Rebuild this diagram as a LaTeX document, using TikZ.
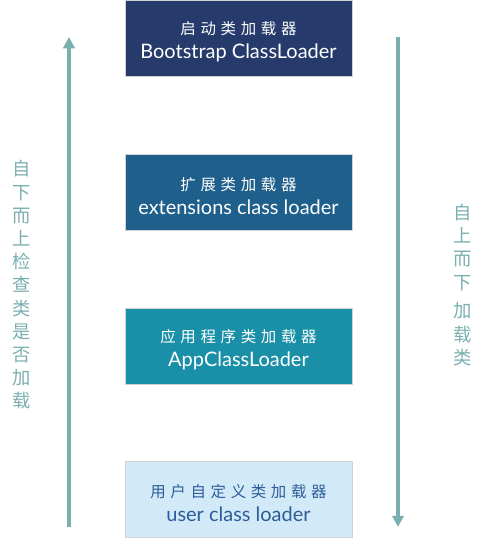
\documentclass[tikz,border=0pt]{standalone}
\usepackage{fontspec}
\setmainfont{Lato}
\newfontfamily\cjk{Noto Sans CJK SC}
\newfontfamily\cjkwide[LetterSpace=30]{Noto Sans CJK SC}
\usetikzlibrary{arrows.meta}

\definecolor{bootblue}{HTML}{263A6B}
\definecolor{extblue}{HTML}{1F5F8B}
\definecolor{appblue}{HTML}{1A8FA8}
\definecolor{userblue}{HTML}{D2EAF8}
\definecolor{usertext}{HTML}{2D5C9A}
\definecolor{flowgray}{HTML}{7AAFB0}

\newcommand\zhline[1]{{\cjkwide\fontsize{11}{13}\selectfont\rule{0pt}{14pt}#1}}
\newcommand\enline[1]{{\fontsize{14.2}{17}\selectfont #1}}

\tikzset{
    loader/.style={draw=gray!35,line width=.6pt,minimum width=5.675cm,
        minimum height=1.9cm,align=center,text=white,inner sep=0pt},
    flow/.style={flowgray,line width=2.2pt,-{Triangle[length=8pt,width=8pt]}},
    flowtext/.style={flowgray,align=center,font=\cjk\fontsize{13}{16.5}\selectfont}
}

\begin{document}
\begin{tikzpicture}[x=0.025cm,y=-0.025cm]
\useasboundingbox (0,0) rectangle (480,539);

%-------------------------------------------- Loaders
\node[loader,fill=bootblue] (boot) at (238.5,38)
    {\zhline{启动类加载器}\\[5pt]\enline{Bootstrap ClassLoader}};
\node[loader,fill=extblue] (ext) at (238.5,192.5)
    {\zhline{扩展类加载器}\\[5pt]\enline{extensions class loader}};
\node[loader,fill=appblue] (app) at (238.5,346.5)
    {\zhline{应用程序类加载器}\\[5pt]\enline{AppClassLoader}};
\node[loader,fill=userblue,text=usertext] (user) at (238.5,499.5)
    {\zhline{用户自定义类加载器}\\[5pt]\enline{user class loader}};

%-------------------------------------------- Bottom-up check
\coordinate (upstart) at (69,527);
\coordinate (upend) at (69,37);
\draw[flow] (upstart) -- (upend);
\node[flowtext] (uplabel) at (22,285)
    {自\\下\\而\\上\\检\\查\\类\\是\\否\\加\\载};

%-------------------------------------------- Top-down load
\coordinate (downstart) at (398,37);
\coordinate (downend) at (398,527);
\draw[flow] (downstart) -- (downend);
\node[flowtext] (downlabel) at (463,285)
    {自\\上\\而\\下\\[4pt]加\\载\\类};

\end{tikzpicture}
\end{document}
